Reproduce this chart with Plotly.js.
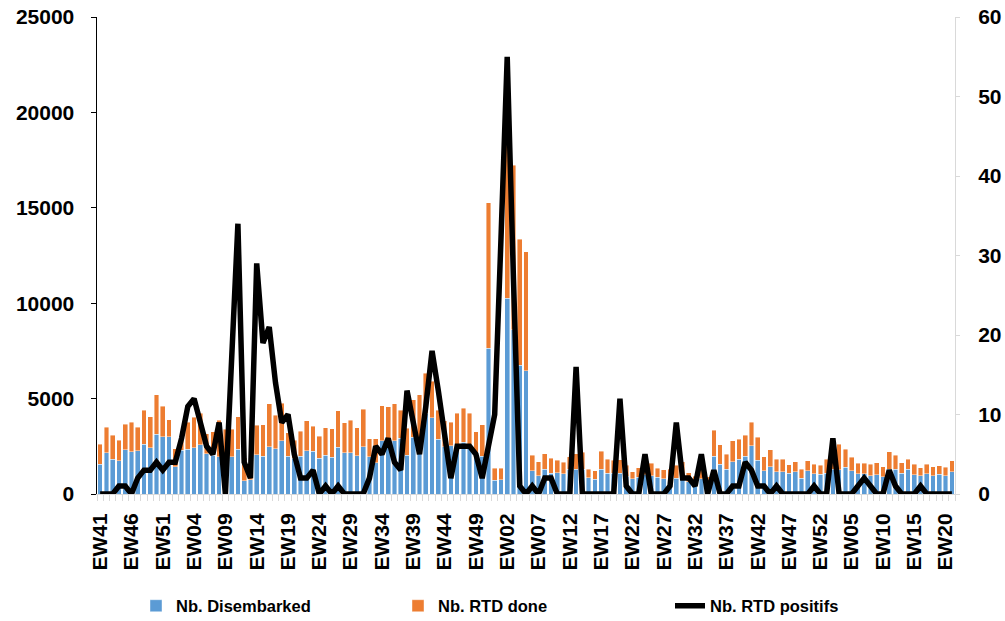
<!DOCTYPE html>
<html>
<head>
<meta charset="utf-8">
<script src="https://cdn.plot.ly/plotly-3.0.1.min.js"></script>
<style>html,body{margin:0;padding:0;background:#fff;}#chart{width:1005px;height:621px;}</style>
</head>
<body>
<div id="chart"></div>
<script>
const weeks = [
 "EW41","EW42","EW43","EW44","EW45","EW46","EW47","EW48","EW49","EW50","EW51","EW52",
 "EW01","EW02","EW03","EW04","EW05","EW06","EW07","EW08","EW09","EW10","EW11","EW12","EW13","EW14","EW15","EW16","EW17","EW18","EW19","EW20","EW21","EW22","EW23","EW24","EW25","EW26","EW27","EW28","EW29","EW30","EW31","EW32","EW33","EW34","EW35","EW36","EW37","EW38","EW39","EW40","EW41","EW42","EW43","EW44","EW45","EW46","EW47","EW48","EW49","EW50","EW51","EW52",
 "EW01","EW02","EW03","EW04","EW05","EW06","EW07","EW08","EW09","EW10","EW11","EW12","EW13","EW14","EW15","EW16","EW17","EW18","EW19","EW20","EW21","EW22","EW23","EW24","EW25","EW26","EW27","EW28","EW29","EW30","EW31","EW32","EW33","EW34","EW35","EW36","EW37","EW38","EW39","EW40","EW41","EW42","EW43","EW44","EW45","EW46","EW47","EW48","EW49","EW50","EW51","EW52",
 "EW01","EW02","EW03","EW04","EW05","EW06","EW07","EW08","EW09","EW10","EW11","EW12","EW13","EW14","EW15","EW16","EW17","EW18","EW19","EW20","EW21"
];

const disembarked = [
 1550,2170,1820,1750,2310,2220,2270,2600,2430,3130,
 3000,2990,1430,2300,2340,2430,2570,2100,2020,1940,
 1940,1960,2340,700,750,2060,1980,2480,2360,2800,
 1990,1870,1990,2270,2240,1870,2030,1920,2460,2170,
 2170,2010,2480,1950,1650,2780,2780,2780,2920,2030,
 2970,2900,4230,4000,2870,2480,2520,2570,2710,2570,
 2040,1990,7640,730,750,10260,8600,6760,6460,1210,
 960,1290,1080,1120,1050,1310,1290,1300,860,770,
 1310,1080,1100,1100,940,800,870,1000,960,870,
 790,800,820,800,650,400,800,500,1990,1570,
 1290,1690,1820,1990,2530,1780,1220,1430,1170,1170,
 1080,1170,820,1220,1050,1030,1080,1290,1260,1400,
 1210,1050,1050,960,1000,910,1290,1290,1080,1290,
 1000,960,1050,960,1030,960,1170
];

const rtdDone = [
 1050,1320,1250,1080,1340,1550,1220,1780,1610,2060,
 1610,890,930,550,1430,1590,1660,1050,1250,1930,
 1460,1440,1710,1200,850,1540,1640,2240,1780,1950,
 1220,960,1310,1570,1320,1150,1430,1500,1910,1570,
 1690,1470,1960,950,1250,1850,1800,1940,1480,1410,
 1960,2290,2090,1900,1530,1360,1240,1660,1780,1660,
 1230,1630,7630,620,600,10240,8640,6600,6240,830,
 720,810,790,640,610,650,810,880,450,440,
 940,750,680,700,580,370,510,700,650,480,
 470,500,680,890,470,540,500,400,1360,1000,
 790,1110,1050,1080,1230,1190,740,880,650,650,
 460,520,470,510,500,490,740,810,1360,940,
 710,560,560,590,640,520,930,750,560,530,
 570,420,520,470,450,440,560
];

const rtdPositive = [
 0,0,0,1,1,0,2,3,3,4,
 3,4,4,7,11,12,9,6,5,9,
 0,17,34,4,2,29,19,21,14,9,
 10,5,2,2,3,0,1,0,1,0,
 0,0,0,2,6,5,7,4,3,13,
 9,5,11,18,13,7,2,6,6,6,
 5,2,6,10,32,55,27,1,0,1,
 0,2,2,0,0,0,16,0,0,0,
 0,0,0,12,1,0,0,5,0,0,
 0,1,9,2,2,1,5,0,3,0,
 0,1,1,4,3,1,1,0,1,0,
 0,0,0,0,1,0,0,7,0,0,
 0,1,2,1,0,0,3,1,0,0,
 0,1,0,0,0,0,0
];

const seriesNames = ["Nb. Disembarked", "Nb. RTD done", "Nb. RTD positifs"];
const labelStep = 5;

const xIdx = weeks.map((w, i) => i);
const tickVals = xIdx.filter(i => i % labelStep === 0);
const tickText = tickVals.map(i => weeks[i]);

const FONT = "Liberation Sans, Arial, sans-serif";
const tickFont = {family: FONT, size: 21, color: "#000", weight: 700};
const legFont = {family: FONT, size: 16.5, color: "#000", weight: 700};

const traces = [
  {type: "bar", name: seriesNames[0], x: xIdx, y: disembarked,
   marker: {color: "#5B9BD5", line: {color: "rgba(255,255,255,0.7)", width: 0.6}},
   legend: "legend", hoverinfo: "skip"},
  {type: "bar", name: seriesNames[1], x: xIdx, y: rtdDone,
   marker: {color: "#ED7D31", line: {color: "rgba(255,255,255,0.7)", width: 0.6}},
   legend: "legend2", hoverinfo: "skip"},
  {type: "scatter", mode: "lines", name: seriesNames[2], x: xIdx, y: rtdPositive, yaxis: "y2",
   line: {color: "#000", width: 5.5}, legend: "legend3", hoverinfo: "skip"}
];

function legendAt(px) {
  return {x: (px - 97) / 858, xanchor: "left", xref: "paper",
          y: (494 - 606) / 477, yanchor: "middle", yref: "paper",
          orientation: "h", font: legFont, bgcolor: "rgba(0,0,0,0)", borderwidth: 0};
}

const layout = {
  width: 1005, height: 621,
  margin: {l: 97, r: 50, t: 17, b: 127, autoexpand: false},
  paper_bgcolor: "#fff", plot_bgcolor: "#fff",
  barmode: "stack", bargap: 0.25,
  showlegend: true,
  xaxis: {
    range: [-0.5, weeks.length - 0.5],
    tickmode: "array", tickvals: tickVals, ticktext: tickText,
    tickangle: -90, ticks: "", ticklabelstandoff: 10,
    showline: true, linecolor: "#d9d9d9", linewidth: 1,
    showgrid: false, zeroline: false, tickfont: tickFont,
    minor: {tickmode: "linear", tick0: -0.5, dtick: 1, ticks: "outside", ticklen: 6,
            tickcolor: "#d9d9d9", tickwidth: 1, showgrid: false}
  },
  yaxis: {
    range: [0, 25000], dtick: 5000, tickformat: "d",
    showline: true, linecolor: "#000", linewidth: 1.5,
    ticks: "outside", ticklen: 5, tickcolor: "#000", tickwidth: 1,
    ticklabelstandoff: 12,
    showgrid: false, zeroline: false, tickfont: tickFont
  },
  yaxis2: {
    overlaying: "y", side: "right", range: [0, 60], dtick: 10,
    showline: true, linecolor: "#d9d9d9", linewidth: 1,
    ticks: "outside", ticklen: 4, tickcolor: "#d9d9d9",
    ticklabelstandoff: 14,
    showgrid: false, zeroline: false, tickfont: tickFont
  },
  legend: legendAt(136),
  legend2: legendAt(398),
  legend3: legendAt(670)
};

Plotly.newPlot("chart", traces, layout, {staticPlot: true, displayModeBar: false});
</script>
</body>
</html>
